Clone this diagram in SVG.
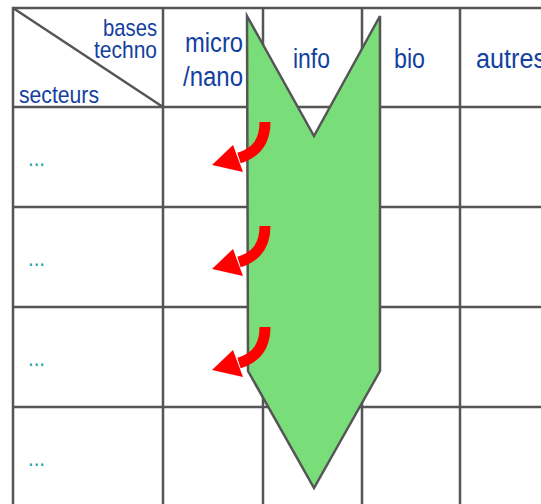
<svg xmlns="http://www.w3.org/2000/svg" width="541" height="504" viewBox="0 0 541 504">
<style>
.grid{stroke:#555;stroke-width:2.5;fill:none}
.hd{font-family:"Liberation Sans",Arial,sans-serif;fill:#1240a0}
.dots{font-family:"Liberation Sans",Arial,sans-serif;fill:#1aa6a6;font-size:24px}
</style>
<defs>
<g id="arr">
<path d="M265,122 C265,140 258,152 239,158" fill="none" stroke="#ff0000" stroke-width="11"/>
<polygon points="212,165 233,145 243,172" fill="#ff0000"/>
</g>
</defs>
<rect width="541" height="504" fill="#fff"/>
<g id="grid">
<rect x="13" y="8" width="540" height="510" fill="#e8e8e8" class="grid"/>
<path class="grid" d="M163,8V510 M263,8V510 M362,8V510 M460,8V510 M13,107H545 M13,207H545 M13,307H545 M13,407H545 M13,8L163,107"/>
</g>
<g id="headers">
<text class="hd" x="157" y="35.5" font-size="24" text-anchor="end" textLength="54" lengthAdjust="spacingAndGlyphs">bases</text>
<text class="hd" x="157" y="58" font-size="24" text-anchor="end" textLength="63" lengthAdjust="spacingAndGlyphs">techno</text>
<text class="hd" x="19" y="103" font-size="24" textLength="80" lengthAdjust="spacingAndGlyphs">secteurs</text>
<text class="hd" x="185" y="52" font-size="27" textLength="58" lengthAdjust="spacingAndGlyphs">micro</text>
<text class="hd" x="183" y="86" font-size="27" textLength="60" lengthAdjust="spacingAndGlyphs">/nano</text>
<text class="hd" x="293" y="68" font-size="27" textLength="37" lengthAdjust="spacingAndGlyphs">info</text>
<text class="hd" x="394" y="68" font-size="27" textLength="31" lengthAdjust="spacingAndGlyphs">bio</text>
<text class="hd" x="476" y="68" font-size="27" textLength="70" lengthAdjust="spacingAndGlyphs">autres</text>
</g>
<g id="rows">
<text class="dots" x="28" y="166" textLength="17" lengthAdjust="spacingAndGlyphs">...</text>
<text class="dots" x="28" y="266" textLength="17" lengthAdjust="spacingAndGlyphs">...</text>
<text class="dots" x="28" y="366" textLength="17" lengthAdjust="spacingAndGlyphs">...</text>
<text class="dots" x="28" y="466" textLength="17" lengthAdjust="spacingAndGlyphs">...</text>
</g>
<g id="big-arrow">
<polygon points="247,16 314,136 380,16 380,371 314,488 248,371" fill="#79de79" stroke="#555" stroke-width="2.5" stroke-linejoin="miter"/>
</g>
<g id="connectors">
<use href="#arr"/>
<use href="#arr" transform="translate(0,104)"/>
<use href="#arr" transform="translate(0,205)"/>
</g>
</svg>
